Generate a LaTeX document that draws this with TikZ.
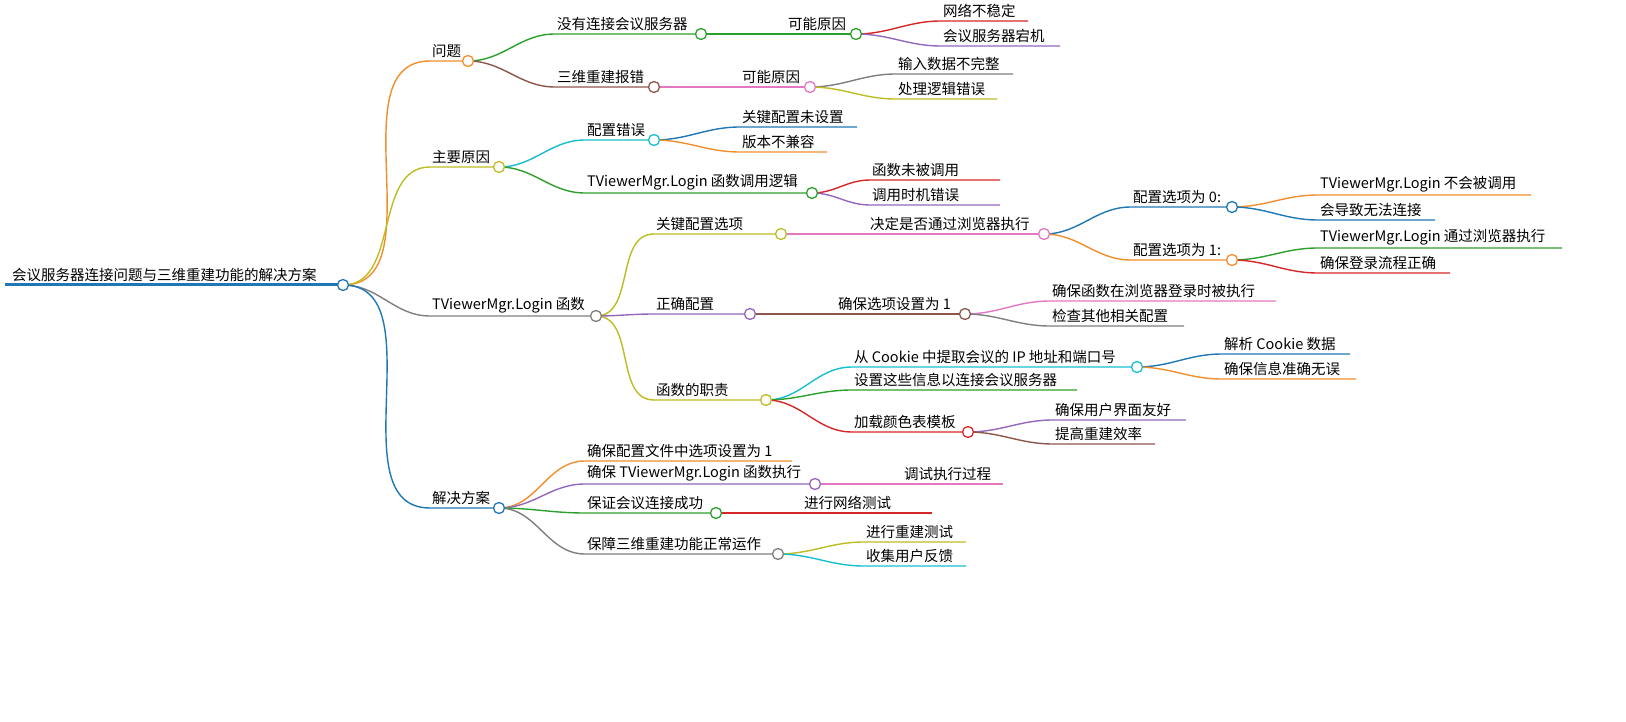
\documentclass[tikz,border=0pt]{standalone}
\usepackage{fontspec}
\setmainfont{Noto Sans CJK SC}
\definecolor{cOr}{HTML}{F28E2B}\definecolor{cOl}{HTML}{BCBD22}
\definecolor{cGy}{HTML}{7F7F7F}\definecolor{cBl}{HTML}{1F77B4}
\definecolor{cGn}{HTML}{2CA02C}\definecolor{cRd}{HTML}{D62728}
\definecolor{cPu}{HTML}{9467BD}\definecolor{cBr}{HTML}{8C564B}
\definecolor{cPk}{HTML}{E377C2}\definecolor{cCy}{HTML}{17BECF}
% #1 parent, #2 name, #3 colour, #4 x, #5 end x, #6 y, #7 text
\newcommand\mm[7]{%
  \coordinate (#2-s) at (#4,#6); \coordinate (#2) at (#5,#6);
  \node[lbl] (#2-t) at (#4+2,#6-3) {#7};
  \draw[#3,edge] (#1) to[out=0,in=180] (#2-s) -- (#2);}
\newcommand\knob[2]{\draw[#2,fill=white,line width=1.3pt] (#1) circle (5.5);}
\begin{document}
\begin{tikzpicture}[x=1pt,y=-1pt,
  lbl/.style={anchor=south west,inner sep=0pt,font=\fontsize{14.5}{16}\selectfont},
  edge/.style={line width=1.4pt}]
\useasboundingbox (0,0) rectangle (1626,722);
% root
\coordinate (root-s) at (5,285); \coordinate (root) at (343,285);
\node[lbl] (root-t) at (12,282) {会议服务器连接问题与三维重建功能的解决方案};
\draw[cBl,line width=3pt] (root-s) -- (root);
% level 1
\mm{root}{wt}{cOr}{430}{468}{61}{问题}
\mm{root}{yy}{cOl}{430}{499}{167}{主要原因}
\mm{root}{fn}{cGy}{430}{596}{316}{TViewerMgr.Login 函数}
\mm{root}{fa}{cBl}{430}{499}{508}{解决方案}
% 问题
\mm{wt}{lj}{cGn}{555}{701}{34}{没有连接会议服务器}
\mm{lj}{lj1}{cGn}{786}{856}{34}{可能原因}
\mm{lj1}{lj11}{cRd}{941}{1028}{21}{网络不稳定}
\mm{lj1}{lj12}{cPu}{941}{1060}{46}{会议服务器宕机}
\mm{wt}{cj}{cBr}{555}{654}{87}{三维重建报错}
\mm{cj}{cj1}{cPk}{740}{810}{87}{可能原因}
\mm{cj1}{cj11}{cGy}{896}{1013}{74}{输入数据不完整}
\mm{cj1}{cj12}{cOl}{896}{997}{99}{处理逻辑错误}
% 主要原因
\mm{yy}{pz}{cCy}{585}{654}{140}{配置错误}
\mm{pz}{pz1}{cBl}{740}{857}{127}{关键配置未设置}
\mm{pz}{pz2}{cOr}{740}{827}{152}{版本不兼容}
\mm{yy}{dy}{cGn}{585}{812}{193}{TViewerMgr.Login 函数调用逻辑}
\mm{dy}{dy1}{cRd}{870}{1000}{180}{函数未被调用}
\mm{dy}{dy2}{cPu}{870}{1000}{205}{调用时机错误}
% TViewerMgr.Login 函数
\mm{fn}{xx}{cOl}{654}{781}{234}{关键配置选项}
\mm{xx}{jd}{cPk}{868}{1044}{234}{决定是否通过浏览器执行}
\mm{jd}{o0}{cBl}{1131}{1232}{207}{配置选项为 0:}
\mm{o0}{o01}{cOr}{1318}{1531}{195}{TViewerMgr.Login 不会被调用}
\mm{o0}{o02}{cBl}{1318}{1435}{220}{会导致无法连接}
\mm{jd}{o1}{cOr}{1131}{1232}{260}{配置选项为 1:}
\mm{o1}{o11}{cGn}{1318}{1562}{248}{TViewerMgr.Login 通过浏览器执行}
\mm{o1}{o12}{cRd}{1318}{1450}{273}{确保登录流程正确}
\mm{fn}{zq}{cPu}{654}{750}{314}{正确配置}
\mm{zq}{zq1}{cBr}{836}{965}{314}{确保选项设置为 1}
\mm{zq1}{zq11}{cPk}{1050}{1276}{301}{确保函数在浏览器登录时被执行}
\mm{zq1}{zq12}{cGy}{1050}{1184}{326}{检查其他相关配置}
\mm{fn}{zz}{cOl}{654}{766}{400}{函数的职责}
\mm{zz}{ck}{cCy}{852}{1137}{367}{从 Cookie 中提取会议的 IP 地址和端口号}
\mm{ck}{ck1}{cBl}{1222}{1350}{354}{解析 Cookie 数据}
\mm{ck}{ck2}{cOr}{1222}{1356}{379}{确保信息准确无误}
\mm{zz}{sz}{cGn}{852}{1077}{390}{设置这些信息以连接会议服务器}
\mm{zz}{ys}{cRd}{852}{968}{432}{加载颜色表模板}
\mm{ys}{ys1}{cPu}{1053}{1186}{420}{确保用户界面友好}
\mm{ys}{ys2}{cBr}{1053}{1155}{444}{提高重建效率}
% 解决方案
\mm{fa}{fa1}{cOr}{585}{792}{461}{确保配置文件中选项设置为 1}
\mm{fa}{fa2}{cPu}{585}{815}{484}{确保 TViewerMgr.Login 函数执行}
\mm{fa2}{fa21}{cPk}{902}{1003}{484}{调试执行过程}
\mm{fa}{fa3}{cGn}{585}{716}{513}{保证会议连接成功}
\mm{fa3}{fa31}{cRd}{802}{932}{513}{进行网络测试}
\mm{fa}{fa4}{cGy}{585}{778}{554}{保障三维重建功能正常运作}
\mm{fa4}{fa41}{cOl}{864}{966}{542}{进行重建测试}
\mm{fa4}{fa42}{cCy}{864}{966}{566}{收集用户反馈}
% knobs
\knob{root}{cBl}
\knob{wt}{cOr}\knob{yy}{cOl}\knob{fn}{cGy}\knob{fa}{cBl}
\knob{lj}{cGn}\knob{lj1}{cGn}\knob{cj}{cBr}\knob{cj1}{cPk}
\knob{pz}{cCy}\knob{dy}{cGn}
\knob{xx}{cOl}\knob{jd}{cPk}\knob{o0}{cBl}\knob{o1}{cOr}
\knob{zq}{cPu}\knob{zq1}{cBr}\knob{zz}{cOl}\knob{ck}{cCy}\knob{ys}{cRd}
\knob{fa2}{cPu}\knob{fa3}{cGn}\knob{fa4}{cGy}
\end{tikzpicture}
\end{document}
